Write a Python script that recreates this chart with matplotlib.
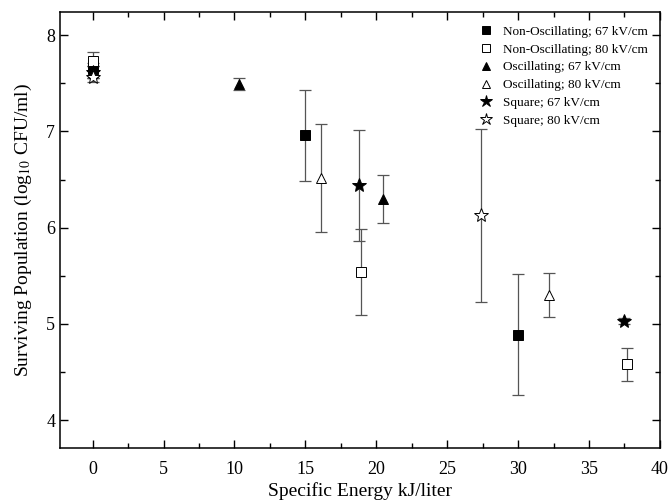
import matplotlib
matplotlib.use("Agg")
import matplotlib.pyplot as plt
from matplotlib.lines import Line2D
from matplotlib.ticker import MultipleLocator

plt.rcParams["font.family"] = ["Liberation Serif", "DejaVu Serif"]
plt.rcParams["mathtext.fontset"] = "stix"

# Specific energy (kJ/liter), surviving population (log10 CFU/ml), error half-widths
nonosc67_x = [0.0, 15.0, 30.0]
nonosc67_y = [7.65, 6.96, 4.89]
nonosc67_err = [0.06, 0.47, 0.63]

nonosc80_x = [0.0, 18.9, 37.7]
nonosc80_y = [7.73, 5.54, 4.58]
nonosc80_err = [0.10, 0.45, 0.17]

osc67_x = [0.0, 10.3, 20.5]
osc67_y = [7.62, 7.49, 6.30]
osc67_err = [0.06, 0.06, 0.25]

osc80_x = [0.0, 16.1, 32.2]
osc80_y = [7.62, 6.52, 5.30]
osc80_err = [0.06, 0.56, 0.23]

sq67_x = [0.0, 18.8, 37.5]
sq67_y = [7.62, 6.44, 5.03]
sq67_err = [0.06, 0.58, 0.03]

sq80_x = [0.0, 27.4]
sq80_y = [7.57, 6.13]
sq80_err = [0.06, 0.90]

series = [
    ("Non-Oscillating; 67 kV/cm", nonosc67_x, nonosc67_y, nonosc67_err, "s", "black"),
    ("Non-Oscillating; 80 kV/cm", nonosc80_x, nonosc80_y, nonosc80_err, "s", "white"),
    ("Oscillating; 67 kV/cm", osc67_x, osc67_y, osc67_err, "^", "black"),
    ("Oscillating; 80 kV/cm", osc80_x, osc80_y, osc80_err, "^", "white"),
    ("Square; 67 kV/cm", sq67_x, sq67_y, sq67_err, "*", "black"),
    ("Square; 80 kV/cm", sq80_x, sq80_y, sq80_err, "*", "white"),
]

fig = plt.figure(figsize=(6.7, 5.03), dpi=100)
ax = fig.add_axes([0.0896, 0.109, 0.8954, 0.867])

handles = []
for label, x, y, err, marker, face in series:
    size = 10 if marker == "*" else 7
    ax.errorbar(x, y, yerr=err, fmt="none", ecolor="#555555", elinewidth=0.9,
                capsize=4, capthick=0.9, zorder=2)
    ax.plot(x, y, linestyle="none", marker=marker, markersize=size,
            markerfacecolor=face, markeredgecolor="black", markeredgewidth=0.7,
            zorder=3)
    handles.append(Line2D([], [], linestyle="none", marker=marker,
                          markersize=size - 1, markerfacecolor=face,
                          markeredgecolor="black", markeredgewidth=0.7,
                          label=label))

ax.set_xlim(-2.3, 40)
ax.set_ylim(3.71, 8.24)
ax.xaxis.set_major_locator(MultipleLocator(5))
ax.xaxis.set_minor_locator(MultipleLocator(2.5))
ax.yaxis.set_major_locator(MultipleLocator(1))
ax.yaxis.set_minor_locator(MultipleLocator(0.5))
ax.tick_params(which="both", direction="in", top=True, right=True,
               labelsize=13, width=1.0)
ax.tick_params(which="major", length=6)
ax.tick_params(which="minor", length=3.5)
ax.tick_params(axis="x", pad=9)
for sp in ax.spines.values():
    sp.set_linewidth(1.1)

ax.set_xlabel("Specific Energy kJ/liter", fontsize=14, labelpad=3)
ax.set_ylabel(r"Surviving Population (log$_{10}$ CFU/ml)", fontsize=14,
              labelpad=9)

ax.legend(handles=handles, loc="upper right", frameon=False, fontsize=9.5,
          handletextpad=0.3, labelspacing=0.42, borderaxespad=0.3,
          bbox_to_anchor=(0.995, 0.99))

fig.savefig("out.png", dpi=100)
